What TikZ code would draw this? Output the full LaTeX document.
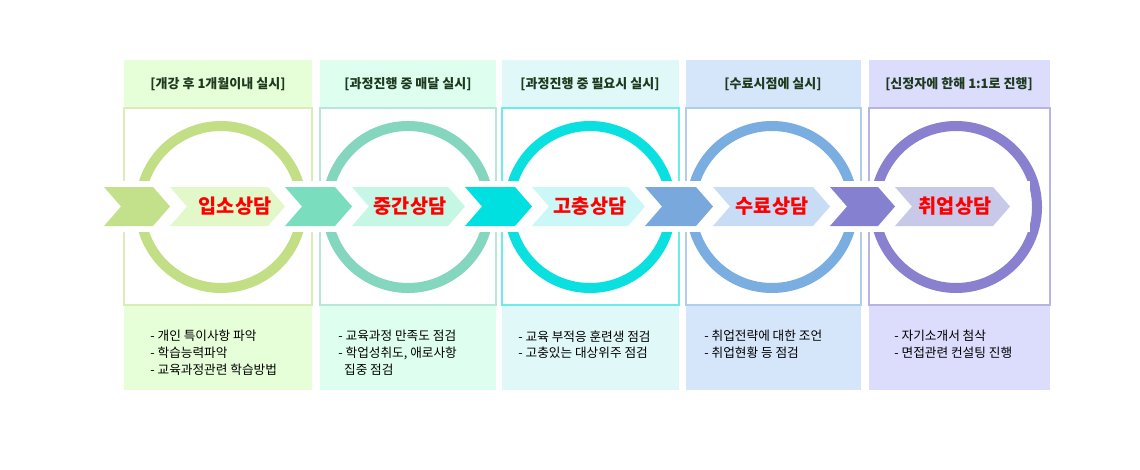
\documentclass[tikz,border=0pt]{standalone}
\usepackage{fontspec}
\setmainfont{Noto Sans CJK KR}
\usetikzlibrary{positioning}
\definecolor{bgA}{HTML}{E6FFD9}\definecolor{ringA}{HTML}{C3DF85}\definecolor{darkA}{HTML}{C3E08A}\definecolor{liteA}{HTML}{E2F8C8}
\definecolor{bgB}{HTML}{DEFFF0}\definecolor{ringB}{HTML}{85D6BE}\definecolor{darkB}{HTML}{7ADDBE}\definecolor{liteB}{HTML}{C6F7E5}
\definecolor{bgC}{HTML}{E0F8F8}\definecolor{ringC}{HTML}{0BE0E0}\definecolor{darkC}{HTML}{00E0E0}\definecolor{liteC}{HTML}{CCF7F7}
\definecolor{bgD}{HTML}{D6E6FA}\definecolor{ringD}{HTML}{7AAEE0}\definecolor{darkD}{HTML}{78A8DC}\definecolor{liteD}{HTML}{C8DCF5}
\definecolor{bgE}{HTML}{DCDCFC}\definecolor{ringE}{HTML}{8A80D0}\definecolor{darkE}{HTML}{8680D0}\definecolor{liteE}{HTML}{C8C8E8}
\definecolor{headtext}{HTML}{1E3A1E}
\tikzset{
    head/.style={font=\bfseries\fontsize{3.7pt}{4.4pt}\selectfont, text=headtext},
    stage/.style={font=\bfseries\fontsize{5.6pt}{6.5pt}\selectfont, text=red},
    note/.style={font=\fontsize{3.6pt}{4.8pt}\selectfont, align=left, anchor=north west},
}
% chevron from x1 to x2 (tip), pixel units
\newcommand{\chev}[3]{\fill[#3] (#1,-187) -- (#2-17,-187) -- (#2,-206.5) -- (#2-17,-226) -- (#1,-226) -- (#1+17,-206.5) -- cycle;}
\begin{document}
\begin{tikzpicture}[x=0.01cm,y=0.01cm]
    \useasboundingbox (0,0) rectangle (1140,-470);
    \fill[white] (0,0) rectangle (1140,-470);
    % columns
    \foreach \xa/\xb/\c in {124/312/A, 320/496/B, 502/679/C, 686/861/D, 869/1050/E}{
        \fill[bg\c] (\xa,-60) rectangle (\xb,-390);
        \draw[ring\c!60, fill=white, line width=0.3pt] (\xa,-108) rectangle (\xb,-305);
    }
    % rings
    \foreach \cx/\c in {221/A, 408/B, 590/C, 772/D, 956/E}{
        \draw[ring\c, line width=0.1cm] (\cx,-207) circle (81);
    }
    \fill[white] (95,-181) rectangle (1030,-232);
    % chevrons
    \chev{104}{170}{darkA}\chev{170}{285}{liteA}
    \chev{285}{352}{darkB}\chev{352}{465}{liteB}
    \chev{465}{532}{darkC}\chev{532}{645}{liteC}
    \chev{645}{713}{darkD}\chev{713}{830}{liteD}
    \chev{830}{895}{darkE}\chev{895}{1010}{liteE}
    % headers
    \node[head] (headA) at (218,-84) {[개강 후 1개월이내 실시]};
    \node[head] (headB) at (408,-84) {[과정진행 중 매달 실시]};
    \node[head] (headC) at (590,-84) {[과정진행 중 필요시 실시]};
    \node[head] (headD) at (773,-84) {[수료시점에 실시]};
    \node[head] (headE) at (959,-84) {[신정자에 한해 1:1로 진행]};
    % stage labels
    \node[stage] (entry) at (235,-206) {입소상담};
    \node[stage] (middle) at (410,-206) {중간상담};
    \node[stage] (extra) at (590,-206) {고충상담};
    \node[stage] (finish) at (772,-206) {수료상담};
    \node[stage] (job) at (955,-206) {취업상담};
    % notes
    \node[note] (noteA) at (138,-318) {- 개인 특이사항 파악\\- 학습능력파악\\- 교육과정관련 학습방법};
    \node[note] (noteB) at (326,-318) {- 교육과정 만족도 점검\\- 학업성취도, 애로사항\\\ \ 집중 점검};
    \node[note] (noteC) at (506,-318) {- 교육 부적응 훈련생 점검\\- 고충있는 대상위주 점검};
    \node[note] (noteD) at (692,-318) {- 취업전략에 대한 조언\\- 취업현황 등 점검};
    \node[note] (noteE) at (882,-318) {- 자기소개서 첨삭\\- 면접관련 컨설팅 진행};
\end{tikzpicture}
\end{document}
